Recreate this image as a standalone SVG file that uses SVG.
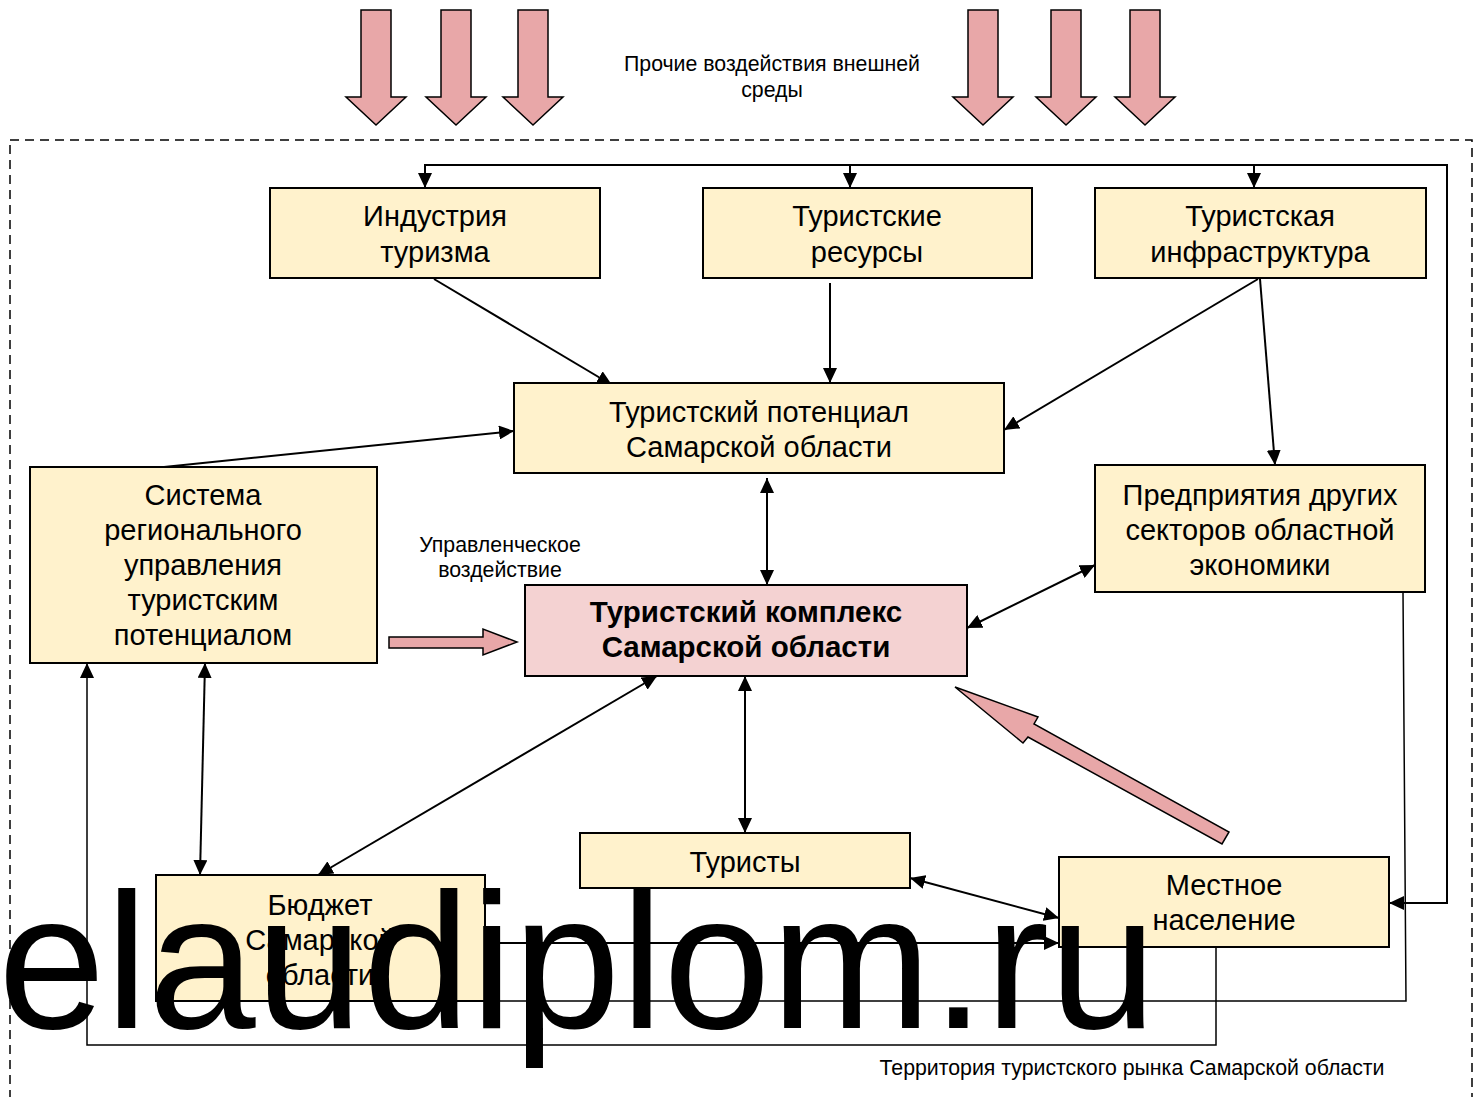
<svg xmlns="http://www.w3.org/2000/svg" width="1475" height="1097" viewBox="0 0 1475 1097">
<defs>
<marker id="ah" viewBox="0 0 15 14" refX="15" refY="7" markerWidth="15" markerHeight="14" markerUnits="userSpaceOnUse" orient="auto-start-reverse"><path d="M0,0 L15,7 L0,14 z" fill="#000"/></marker>
<style>
.box{fill:#FFF2CC;stroke:#000;stroke-width:2}
.boxp{fill:#F4D2D2;stroke:#000;stroke-width:2}
.blk{fill:#E8A7A8;stroke:#000;stroke-width:1.5}
.t{font-family:"Liberation Sans",Arial,sans-serif;font-size:29px;fill:#000;text-anchor:middle}
.tb{font-family:"Liberation Sans",Arial,sans-serif;font-size:29.5px;font-weight:bold;fill:#000;text-anchor:middle}
.s{font-family:"Liberation Sans",Arial,sans-serif;font-size:21.3px;fill:#000;text-anchor:middle}
.c{fill:none;stroke:#000;stroke-width:2}
.c1{fill:none;stroke:#000;stroke-width:1.5}
</style>
</defs>
<rect x="10" y="140" width="1462" height="975" fill="none" stroke="#000" stroke-width="1.5" stroke-dasharray="9 6"/>

<g id="external-arrows">
<polygon class="blk" points="361,10 391,10 391,97 406,97 376,125 346,97 361,97"/>
<polygon class="blk" points="441,10 471,10 471,97 486,97 456,125 426,97 441,97"/>
<polygon class="blk" points="518,10 548,10 548,97 563,97 533,125 503,97 518,97"/>
<polygon class="blk" points="968,10 998,10 998,97 1013,97 983,125 953,97 968,97"/>
<polygon class="blk" points="1051,10 1081,10 1081,97 1096,97 1066,125 1036,97 1051,97"/>
<polygon class="blk" points="1130,10 1160,10 1160,97 1175,97 1145,125 1115,97 1130,97"/>
<polygon class="blk" points="389,637 483,637 483,629 517,642 483,655 483,648 389,648"/>
<polygon class="blk" points="955,687 1038,717 1034,724 1229,832 1222,844 1028,737 1023,743"/>
</g>

<g id="connectors">
<path class="c" d="M425,188 L425,165 L1447,165 L1447,903 L1389,903" marker-start="url(#ah)" marker-end="url(#ah)"/>
<path class="c" d="M850,165 L850,188" marker-end="url(#ah)"/>
<path class="c" d="M1254,165 L1254,188" marker-end="url(#ah)"/>
<path class="c1" d="M1403,592 L1406,1001 L485,1001" marker-end="url(#ah)"/>
<path class="c" d="M485,943 L1059,943" marker-start="url(#ah)" marker-end="url(#ah)"/>
<path class="c1" d="M1216,947 L1216,1045 L87,1045 L87,663" marker-end="url(#ah)"/>
<path class="c" d="M205,663 L200,875" marker-start="url(#ah)" marker-end="url(#ah)"/>
<path class="c" d="M657,676 L318,875" marker-start="url(#ah)" marker-end="url(#ah)"/>
<path class="c" d="M745,676 L745,833" marker-start="url(#ah)" marker-end="url(#ah)"/>
<path class="c" d="M910,878 L1059,918" marker-start="url(#ah)" marker-end="url(#ah)"/>
<path class="c" d="M967,628 L1095,565" marker-start="url(#ah)" marker-end="url(#ah)"/>
<path class="c" d="M767,478 L767,585" marker-start="url(#ah)" marker-end="url(#ah)"/>
<path class="c" d="M434,279 L612,385" marker-end="url(#ah)"/>
<path class="c" d="M830,283 L830,383" marker-end="url(#ah)"/>
<path class="c" d="M1258,279 L1004,430" marker-end="url(#ah)"/>
<path class="c" d="M1260,279 L1275,465" marker-end="url(#ah)"/>
<path class="c" d="M164,467 L514,431" marker-end="url(#ah)"/>
</g>

<g id="industry"><rect class="box" x="270" y="188" width="330" height="90"/>
<text class="t" x="435" y="226">Индустрия</text><text class="t" x="435" y="262">туризма</text></g>
<g id="resources"><rect class="box" x="703" y="188" width="329" height="90"/>
<text class="t" x="867" y="226">Туристские</text><text class="t" x="867" y="262">ресурсы</text></g>
<g id="infrastructure"><rect class="box" x="1095" y="188" width="331" height="90"/>
<text class="t" x="1260" y="226">Туристская</text><text class="t" x="1260" y="262">инфраструктура</text></g>
<g id="potential"><rect class="box" x="514" y="383" width="490" height="90"/>
<text class="t" x="759" y="422">Туристский потенциал</text><text class="t" x="759" y="457">Самарской области</text></g>
<g id="management"><rect class="box" x="30" y="467" width="347" height="196"/>
<text class="t" x="203" y="505">Система</text><text class="t" x="203" y="540">регионального</text><text class="t" x="203" y="575">управления</text><text class="t" x="203" y="610">туристским</text><text class="t" x="203" y="645">потенциалом</text></g>
<g id="enterprises"><rect class="box" x="1095" y="465" width="330" height="127"/>
<text class="t" x="1260" y="505">Предприятия других</text><text class="t" x="1260" y="540">секторов областной</text><text class="t" x="1260" y="575">экономики</text></g>
<g id="complex"><rect class="boxp" x="525" y="585" width="442" height="91"/>
<text class="tb" x="746" y="622">Туристский комплекс</text><text class="tb" x="746" y="657">Самарской области</text></g>
<g id="tourists"><rect class="box" x="580" y="833" width="330" height="55"/>
<text class="t" x="745" y="872">Туристы</text></g>
<g id="budget"><rect class="box" x="156" y="875" width="329" height="126"/>
<text class="t" x="320" y="915">Бюджет</text><text class="t" x="320" y="950">Самарской</text><text class="t" x="320" y="985">области</text></g>
<g id="population"><rect class="box" x="1059" y="857" width="330" height="90"/>
<text class="t" x="1224" y="895">Местное</text><text class="t" x="1224" y="930">население</text></g>

<g id="labels">
<text class="s" x="772" y="71">Прочие воздействия внешней</text>
<text class="s" x="772" y="97">среды</text>
<text class="s" x="500" y="552">Управленческое</text>
<text class="s" x="500" y="577">воздействие</text>
<text class="s" x="1132" y="1075">Территория туристского рынка Самарской области</text>
</g>
<g id="watermark"><text x="-2" y="1028" font-family="'Liberation Sans',Arial,sans-serif" font-size="193" fill="#000">elaudiplom.ru</text></g>
</svg>
